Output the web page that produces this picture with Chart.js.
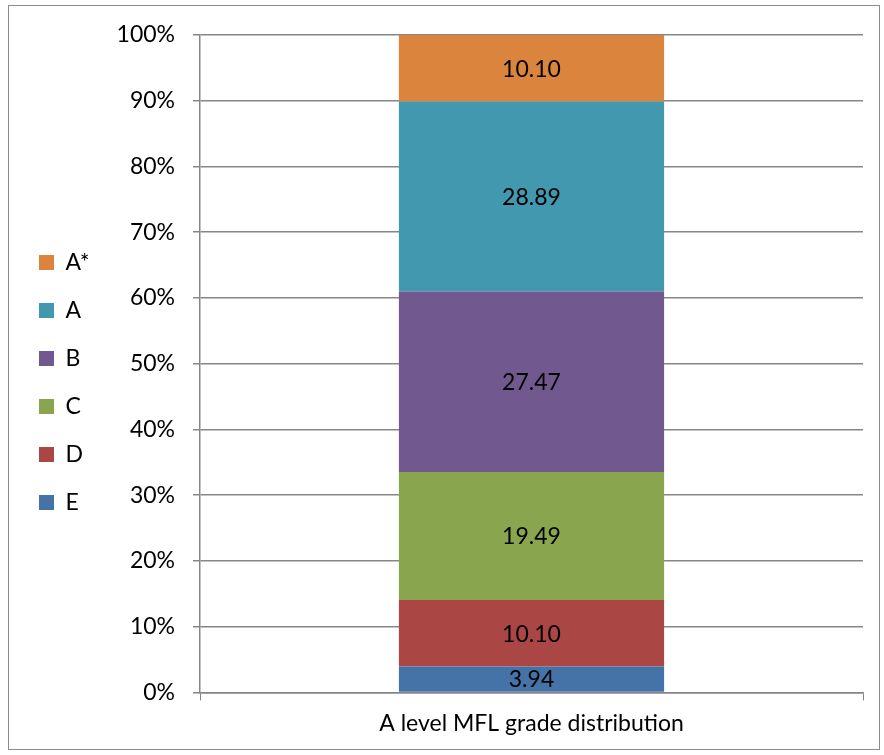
<!DOCTYPE html>
<html>
<head>
<meta charset="utf-8">
<script src="https://cdn.jsdelivr.net/npm/chart.js@4.4.1/dist/chart.umd.min.js"></script>
<style>
  body { margin: 0; background: #fff; }
  #box { position: absolute; left: 8px; top: 5px; width: 872px; height: 745px; border: 1px solid #8c8c8c; box-sizing: border-box; }
  #myChart { position: absolute; left: 0; top: 0; }
</style>
</head>
<body>
<div id="box"><canvas id="myChart" width="870" height="743"></canvas></div>
<script>
// data
const categories = ['A level MFL grade distribution'];
const grades = ['E', 'D', 'C', 'B', 'A', 'A*'];
const gradeValues = [3.94, 10.10, 19.49, 27.47, 28.89, 10.10];
const gradeColors = ['#4572a7', '#aa4643', '#89a54e', '#71588f', '#4198af', '#db843d'];
const yTicks = [0, 10, 20, 30, 40, 50, 60, 70, 80, 90, 100];

const fontFam = 'Lato, "Open Sans", sans-serif';
const padLeft = 5;

// value labels in the middle of each segment
const barLabels = {
  id: 'barLabels',
  afterDatasetsDraw(chart) {
    const ctx = chart.ctx;
    ctx.save();
    ctx.font = '23px ' + fontFam;
    ctx.fillStyle = '#000';
    ctx.textAlign = 'center';
    ctx.textBaseline = 'middle';
    chart.data.datasets.forEach((ds, i) => {
      const bar = chart.getDatasetMeta(i).data[0];
      const mid = (bar.y + bar.base) / 2;
      ctx.fillText(ds.data[0].toFixed(2), bar.x, mid + 1);
    });
    ctx.restore();
  }
};

const ctx = document.getElementById('myChart');
let chart = new Chart(ctx, {
  type: 'bar',
  data: {
    labels: categories,
    datasets: grades.map((g, i) => ({
      label: g,
      data: [gradeValues[i]],
      backgroundColor: gradeColors[i],
      borderWidth: 0,
      barPercentage: 0.4,
      categoryPercentage: 1
    }))
  },
  options: {
    responsive: false,
    animation: false,
    layout: { padding: { left: padLeft, right: 16, top: 13, bottom: 3 } },
    plugins: {
      tooltip: { enabled: false },
      legend: {
        position: 'left',
        reverse: true,
        labels: {
          boxWidth: 15,
          boxHeight: 15,
          padding: 25,
          color: '#000',
          font: { family: fontFam, size: 23 }
        }
      }
    },
    scales: {
      x: {
        stacked: true,
        grid: { drawOnChartArea: false, drawTicks: true, tickLength: 8, offset: true, color: '#868686' },
        border: { color: '#868686', width: 1.5 },
        ticks: { color: '#000', padding: 9, font: { family: fontFam, size: 23 } }
      },
      y: {
        stacked: true,
        min: 0,
        max: 100,
        afterBuildTicks: s => { s.ticks = yTicks.map(v => ({ value: v })); },
        afterFit: s => {
          const lw = s.chart.legend ? s.chart.legend.width : 40;
          s.width = 191 - padLeft - lw;
          s.paddingTop = 29;
          s.paddingBottom = 0;
        },
        grid: { color: '#868686', lineWidth: 1.5, tickLength: 7 },
        border: { color: '#868686', width: 1.5 },
        ticks: {
          color: '#000',
          padding: 18,
          font: { family: fontFam, size: 23 },
          callback: v => v + '%'
        }
      }
    }
  },
  plugins: [barLabels]
});
</script>
</body>
</html>
